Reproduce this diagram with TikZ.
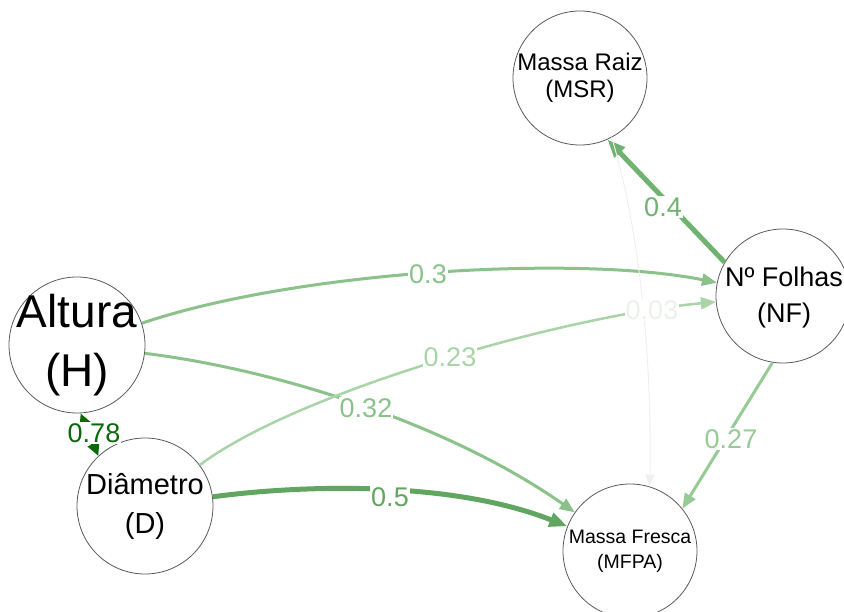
\documentclass[tikz,border=0pt]{standalone}
\usepackage{fontspec}
\setmainfont{Liberation Sans}
\usetikzlibrary{arrows.meta}
\definecolor{c78}{RGB}{10,105,10}
\definecolor{c5}{RGB}{96,165,96}
\definecolor{c4}{RGB}{112,178,112}
\definecolor{c3}{RGB}{138,194,138}
\definecolor{c27}{RGB}{150,202,150}
\definecolor{c23}{RGB}{168,212,168}
\definecolor{c03}{RGB}{236,241,236}
\begin{document}
\begin{tikzpicture}[x=1pt,y=-1pt,
  vcirc/.style={circle, draw=black!65, line width=0.8pt, fill=white, inner sep=0pt, minimum size=#1},
  vtxt/.style={align=center, inner sep=0pt},
  elab/.style={fill=white, inner sep=1.2pt, font=\fontsize{27}{27}\selectfont},
  pe/.style={line width=#1, -{Triangle[length=15pt,width=12pt]}},
  pethick/.style={line width=#1, -{Triangle[length=18pt,width=14pt]}}
]
\useasboundingbox (0,0) rectangle (844,612);
\clip (0,0) rectangle (844,612);

% nodes
\node[vcirc=136pt] (H) at (77,345) {};
\node[vtxt, font=\fontsize{46}{59}\selectfont] (Ht) at (H) {Altura\\(H)};
\node[vcirc=136pt] (D) at (145,506) {};
\node[vtxt, font=\fontsize{29}{39}\selectfont] (Dt) at (D) {Diâmetro\\(D)};
\node[vcirc=134pt] (MSR) at (580,78) {};
\node[vtxt, font=\fontsize{24}{27}\selectfont] (MSRt) at (MSR) {Massa Raiz\\(MSR)};
\node[vcirc=134pt] (NF) at (783,296) {};
\node[vtxt, font=\fontsize{27}{36}\selectfont] (NFt) at (784,298) {Nº Folhas\\(NF)};
\node[vcirc=134pt] (MFPA) at (630,551) {};
\node[vtxt, font=\fontsize{19.5}{25}\selectfont] (MFPAt) at (MFPA) {Massa Fresca\\(MFPA)};

% edges
\draw[pe=3pt, draw=c3] (H) .. controls (300,270) and (580,255) .. (NF);
\node[elab, text=c3] (l3) at (428,274) {0.3};

\draw[pe=3pt, draw=c3] (H) .. controls (280,370) and (450,425) .. (MFPA);
\node[elab, text=c3] (l32) at (366,408) {0.32};

\draw[pe=2.5pt, draw=c23] (D) .. controls (300,390) and (570,315) .. (NF);
\node[elab, text=c23] (l23) at (450,357) {0.23};

\draw[pethick=5pt, draw=c5] (D) .. controls (300,485) and (450,480) .. (MFPA);
\node[elab, text=c5] (l5) at (390,497) {0.5};

\draw[pethick=5pt, draw=c4] (NF.150) -- (MSR.-66);
\node[elab, text=c4] (l4) at (663,207) {0.4};

\draw[pe=3pt, draw=c27] (NF.-99) -- (MFPA.39);
\node[elab, text=c27] (l27) at (731,439) {0.27};

\draw[line width=1pt, draw=c03, -{Triangle[length=12pt,width=9pt]}] (MSR.-62) .. controls (640,230) and (652,360) .. (MFPA.73);
\node[elab, text=c03] (l03) at (652,310) {0.03};

\draw[line width=5pt, draw=c78, {Triangle[length=13pt,width=12pt]}-{Triangle[length=13pt,width=12pt]}] (H.-87) -- (D.133);
\node[elab, text=c78] (l78) at (94,433) {0.78};
\end{tikzpicture}
\end{document}
